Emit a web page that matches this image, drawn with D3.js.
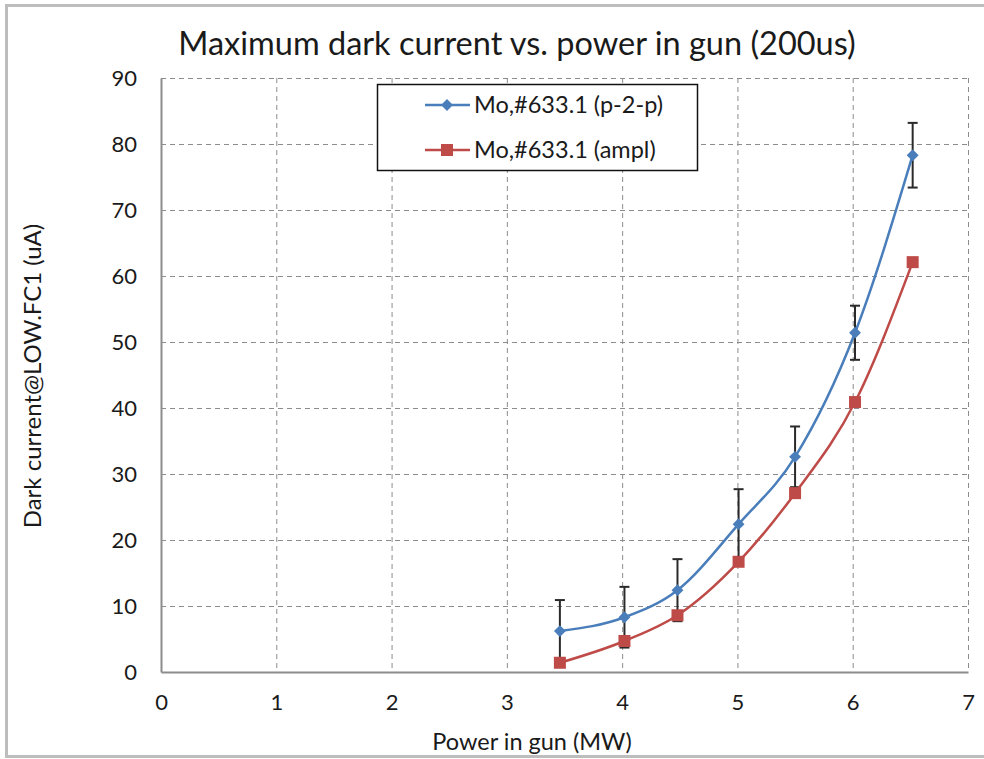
<!DOCTYPE html>
<html>
<head>
<meta charset="utf-8">
<script src="https://cdn.jsdelivr.net/npm/d3@7"></script>
<style>
  body { margin: 0; background: #fff; }
  text { font-family: Lato, "Open Sans", sans-serif; fill: #1a1a1a; }
</style>
</head>
<body>
<script>
(function () {
  "use strict";
  var w = 984, h = 759;

  var power = [3.46, 4.02, 4.48, 5.01, 5.5, 6.02, 6.52];
  var p2p = [6.2, 8.3, 12.4, 22.4, 32.6, 51.4, 78.3];
  var p2pErr = [4.7, 4.6, 4.7, 5.3, 4.6, 4.1, 4.9];
  var ampl = [1.4, 4.7, 8.6, 16.7, 27.1, 40.9, 62.1];
  var xTicks = [0, 1, 2, 3, 4, 5, 6, 7];
  var yTicks = [0, 10, 20, 30, 40, 50, 60, 70, 80, 90];
  var seriesNames = ["Mo,#633.1 (p-2-p)", "Mo,#633.1 (ampl)"];

  var left = 161, right = 968, top = 78, bottom = 672;

  var svg = d3.select("body").append("svg")
              .attr("width", w)
              .attr("height", h);

  // outer chart frame
  svg.append("rect")
     .attr("x", 6.5).attr("y", 5.5)
     .attr("width", w + 10).attr("height", 751)
     .attr("fill", "#fff")
     .attr("stroke", "#bdbdbd")
     .attr("stroke-width", 3);

  var x = d3.scaleLinear().domain([0, 7]).range([left, right]);
  var y = d3.scaleLinear().domain([0, 90]).range([bottom, top]);

  // gridlines
  svg.append("g").selectAll("line")
     .data(yTicks.filter(d => d > 0))
     .enter().append("line")
     .attr("x1", left).attr("x2", right)
     .attr("y1", d => y(d) + 0.5).attr("y2", d => y(d) + 0.5)
     .attr("stroke", "#8c8c8c")
     .attr("stroke-dasharray", "5,4");
  svg.append("g").selectAll("line")
     .data(xTicks.filter(d => d > 0))
     .enter().append("line")
     .attr("x1", d => x(d) + 0.5).attr("x2", d => x(d) + 0.5)
     .attr("y1", top).attr("y2", bottom)
     .attr("stroke", "#8c8c8c")
     .attr("stroke-dasharray", "5,4");

  // axes
  var xAxis = svg.append("g")
     .attr("transform", "translate(0," + bottom + ")")
     .call(d3.axisBottom(x).tickValues(xTicks).tickFormat(d3.format("d"))
             .tickSize(0).tickPadding(22));
  var yAxis = svg.append("g")
     .attr("transform", "translate(" + left + ",0)")
     .call(d3.axisLeft(y).tickValues(yTicks).tickSize(0).tickPadding(24));
  [xAxis, yAxis].forEach(function (g) {
    g.select(".domain").attr("stroke", "#8c8c8c").attr("stroke-width", 2);
    g.selectAll("text").style("font-size", "22px").attr("fill", "#1a1a1a");
  });

  // error bars
  var eb = svg.append("g").selectAll("g")
     .data(power)
     .enter().append("g");
  eb.append("line")
     .attr("x1", d => x(d)).attr("x2", d => x(d))
     .attr("y1", (d, i) => y(p2p[i] - p2pErr[i]))
     .attr("y2", (d, i) => y(p2p[i] + p2pErr[i]))
     .attr("stroke", "#2a2a2a").attr("stroke-width", 2);
  [-1, 1].forEach(function (s) {
    eb.append("line")
       .attr("x1", d => x(d) - 5).attr("x2", d => x(d) + 5)
       .attr("y1", (d, i) => y(p2p[i] + s * p2pErr[i]))
       .attr("y2", (d, i) => y(p2p[i] + s * p2pErr[i]))
       .attr("stroke", "#2a2a2a").attr("stroke-width", 2);
  });

  var line = d3.line()
     .x(d => x(d[0]))
     .y(d => y(d[1]))
     .curve(d3.curveMonotoneX);

  var blue = "#4a7ebb", red = "#be4b48";

  svg.append("path")
     .datum(d3.zip(power, ampl))
     .attr("d", line)
     .attr("fill", "none")
     .attr("stroke", red)
     .attr("stroke-width", 2.5);
  svg.append("g").selectAll("rect")
     .data(d3.zip(power, ampl))
     .enter().append("rect")
     .attr("x", d => x(d[0]) - 6).attr("y", d => y(d[1]) - 6)
     .attr("width", 12).attr("height", 12)
     .attr("fill", red);

  svg.append("path")
     .datum(d3.zip(power, p2p))
     .attr("d", line)
     .attr("fill", "none")
     .attr("stroke", blue)
     .attr("stroke-width", 2.5);
  svg.append("g").selectAll("path")
     .data(d3.zip(power, p2p))
     .enter().append("path")
     .attr("d", d3.symbol(d3.symbolDiamond2, 90))
     .attr("transform", d => "translate(" + x(d[0]) + "," + y(d[1]) + ")")
     .attr("fill", blue);

  // legend
  var lg = svg.append("g");
  lg.append("rect")
    .attr("x", 377.5).attr("y", 84.5)
    .attr("width", 320).attr("height", 86)
    .attr("fill", "#fff")
    .attr("stroke", "#111")
    .attr("stroke-width", 1.5);
  var rows = [[blue, 105, "diamond"], [red, 150, "square"]];
  rows.forEach(function (r, i) {
    lg.append("line")
      .attr("x1", 425).attr("x2", 470)
      .attr("y1", r[1]).attr("y2", r[1])
      .attr("stroke", r[0]).attr("stroke-width", 2.5);
    if (r[2] === "diamond") {
      lg.append("path")
        .attr("d", d3.symbol(d3.symbolDiamond2, 90))
        .attr("transform", "translate(447," + r[1] + ")")
        .attr("fill", r[0]);
    } else {
      lg.append("rect")
        .attr("x", 441).attr("y", r[1] - 6)
        .attr("width", 12).attr("height", 12)
        .attr("fill", r[0]);
    }
    lg.append("text")
      .attr("x", 474).attr("y", r[1])
      .attr("dy", "0.35em")
      .style("font-size", "23.5px")
      .text(seriesNames[i]);
  });

  // titles
  svg.append("text")
     .attr("x", 517).attr("y", 44)
     .attr("dy", "0.35em")
     .attr("text-anchor", "middle")
     .style("font-size", "32.5px")
     .text("Maximum dark current vs. power in gun (200us)");
  svg.append("text")
     .attr("x", 532).attr("y", 742)
     .attr("dy", "0.35em")
     .attr("text-anchor", "middle")
     .style("font-size", "23.5px")
     .text("Power in gun (MW)");
  svg.append("text")
     .attr("transform", "translate(33,376) rotate(-90)")
     .attr("dy", "0.35em")
     .attr("text-anchor", "middle")
     .style("font-size", "24px")
     .text("Dark current@LOW.FC1 (uA)");
})();
</script>
</body>
</html>
